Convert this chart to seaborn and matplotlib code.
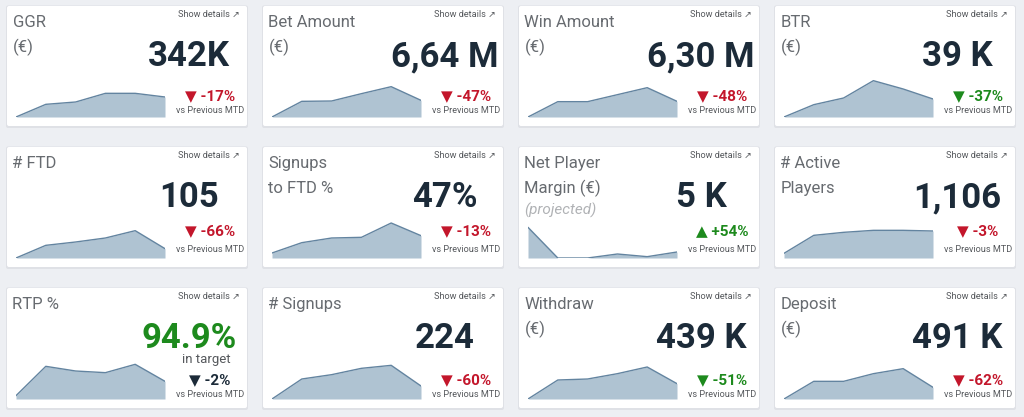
import matplotlib
matplotlib.use('Agg')
import matplotlib.pyplot as plt
from matplotlib.patches import FancyBboxPatch
import seaborn as sns

# KPI cards, listed row by row (4 per row)
titles = [['GGR', '(€)'], ['Bet Amount', '(€)'], ['Win Amount', '(€)'], ['BTR', '(€)'],
          ['# FTD'], ['Signups', 'to FTD %'], ['Net Player', 'Margin (€)'], ['# Active', 'Players'],
          ['RTP %'], ['# Signups'], ['Withdraw', '(€)'], ['Deposit', '(€)']]
subtitles = ['', '', '', '', '', '', '(projected)', '', '', '', '', '']
values = ['342K', '6,64 M', '6,30 M', '39 K', '105', '47%', '5 K', '1,106', '94.9%', '224', '439 K', '491 K']
value_notes = ['', '', '', '', '', '', '', '', 'in target', '', '', '']
changes = ['-17%', '-47%', '-48%', '-37%', '-66%', '-13%', '+54%', '-3%', '-2%', '-60%', '-51%', '-62%']
directions = ['down', 'down', 'down', 'down', 'down', 'down', 'up', 'down', 'down', 'down', 'down', 'down']
change_kind = ['bad', 'bad', 'bad', 'good', 'bad', 'bad', 'good', 'bad', 'neutral', 'bad', 'good', 'bad']
value_kind = ['neutral'] * 8 + ['good'] + ['neutral'] * 3

# sparkline series (6 periods each)
spark_ggr = [0, 38, 45, 71, 71, 60]
spark_bet = [0, 47, 48, 70, 91, 50]
spark_win = [0, 46, 46, 67, 88, 47]
spark_btr = [0, 37, 57, 109, 84, 54]
spark_ftd = [0, 38, 48, 60, 82, 28]
spark_s2ftd = [15, 46, 60, 62, 105, 67]
spark_npm = [92, 0, 0, 12, 4, 18]
spark_active = [14, 68, 77, 83, 83, 81]
spark_rtp = [10, 98, 84, 79, 104, 53]
spark_signups = [0, 60, 73, 92, 101, 39]
spark_withdraw = [0, 57, 60, 76, 96, 46]
spark_deposit = [0, 53, 53, 76, 91, 35]
sparks = [spark_ggr, spark_bet, spark_win, spark_btr,
          spark_ftd, spark_s2ftd, spark_npm, spark_active,
          spark_rtp, spark_signups, spark_withdraw, spark_deposit]

# colours
BG = '#edeff3'
TITLE_C = '#676b70'
VALUE_C = '#1c2b39'
SMALL_C = '#55585c'
KIND_C = {'bad': '#c3162b', 'good': '#1d8a1d', 'neutral': VALUE_C}
FILL_C = '#afc3d2'
LINE_C = '#6384a0'

sns.set_theme(style='white')
plt.rcParams['font.family'] = ['Roboto', 'DejaVu Sans']

W, H = 1024, 417
fig = plt.figure(figsize=(W / 100, H / 100), dpi=100)
fig.patch.set_facecolor(BG)

# background axes in pixel coordinates
bg = fig.add_axes([0, 0, 1, 1])
bg.set_xlim(0, W)
bg.set_ylim(H, 0)
bg.axis('off')

card_w, card_h = 240, 120
row_tops = [6, 147, 288]
delta_base = [94, 88, 96]
vs_base = [107, 105, 109]

for i in range(12):
    row, col = divmod(i, 4)
    x0 = 7 + 256 * col
    y0 = row_tops[row]

    # shadow + card
    bg.add_patch(FancyBboxPatch((x0 - 1, y0 - 0.5), card_w + 2, card_h + 2.5,
                                boxstyle='round,pad=0,rounding_size=2',
                                fc='#dfe1e6', ec='none'))
    bg.add_patch(FancyBboxPatch((x0, y0), card_w, card_h,
                                boxstyle='round,pad=0,rounding_size=2',
                                fc='white', ec='none'))

    # title lines
    for j, line in enumerate(titles[i]):
        bg.text(x0 + 5.5, y0 + 21 + 25 * j, line, fontsize=12, color=TITLE_C, va='baseline')
    if subtitles[i]:
        bg.text(x0 + 5.5, y0 + 68, subtitles[i], fontsize=11, color='#b0b2b5',
                style='italic', va='baseline')

    bg.text(x0 + 233, y0 + 11, 'Show details ↗', fontsize=6.6, color=SMALL_C,
            ha='right', va='baseline')

    # main value
    bg.text(x0 + 182, y0 + 60, values[i], fontsize=25, fontweight='bold',
            color=KIND_C[value_kind[i]], ha='center', va='baseline')
    if value_notes[i]:
        bg.text(x0 + 199, y0 + 75, value_notes[i], fontsize=9.5, color=SMALL_C,
                ha='center', va='baseline')

    arrow = '▲' if directions[i] == 'up' else '▼'
    bg.text(x0 + 203, y0 + delta_base[row], arrow + ' ' + changes[i], fontsize=11,
            fontweight='bold', color=KIND_C[change_kind[i]], ha='center', va='baseline')
    bg.text(x0 + 203, y0 + vs_base[row], 'vs Previous MTD', fontsize=6.6, color=SMALL_C,
            ha='center', va='baseline')

    # sparkline
    sx, sy_bottom = x0 + 9, y0 + 111
    sax = fig.add_axes([sx / W, 1 - sy_bottom / H, 149 / W, 39 / H])
    xs = list(range(len(sparks[i])))
    sax.fill_between(xs, sparks[i], 0, color=FILL_C, lw=0)
    sns.lineplot(x=xs, y=sparks[i], ax=sax, color=LINE_C, lw=1)
    sax.set_xlim(0, len(xs) - 1)
    sax.set_ylim(0, 117)
    sax.axis('off')

fig.savefig('out.png', dpi=100, facecolor=BG)
